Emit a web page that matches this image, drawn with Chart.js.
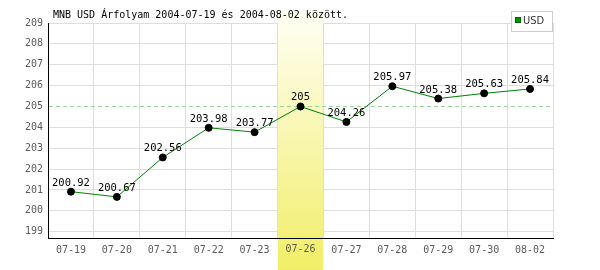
<!DOCTYPE html>
<html>
<head>
<meta charset="utf-8">
<script src="https://cdn.jsdelivr.net/npm/chart.js@4/dist/chart.umd.min.js"></script>
<style>
html,body{margin:0;padding:0;background:#fff;}
#wrap{width:600px;height:270px;position:relative;}
</style>
</head>
<body>
<div id="wrap"><canvas id="c" width="600" height="270"></canvas></div>
<script>
const titleText = "MNB USD Árfolyam 2004-07-19 és 2004-08-02 között.";
const categories = ["07-19","07-20","07-21","07-22","07-23","07-26","07-27","07-28","07-29","07-30","08-02"];
const usdValues = [200.92, 200.67, 202.56, 203.98, 203.77, 205, 204.26, 205.97, 205.38, 205.63, 205.84];
const usdLabels = ["200.92","200.67","202.56","203.98","203.77","205","204.26","205.97","205.38","205.63","205.84"];
const yTicks = [199,200,201,202,203,204,205,206,207,208,209];
const highlightCategory = "07-26";
const referenceLine = 205;
const seriesName = "USD";

const mono = "'DejaVu Sans Mono', monospace";
const hlIdx = categories.indexOf(highlightCategory);

const overlay = {
  id: 'overlay',
  beforeDatasetsDraw(chart) {
    const {ctx, chartArea, scales} = chart;
    const xs = scales.x, ys = scales.y;
    const cx = xs.getPixelForValue(hlIdx);
    const w = (chartArea.right - chartArea.left) / categories.length;
    const x0 = Math.round(cx - w/2), x1 = Math.round(cx + w/2);
    const g = ctx.createLinearGradient(0, 9, 0, 270);
    g.addColorStop(0, '#fffff6');
    g.addColorStop(1, '#f1ee66');
    ctx.save();
    ctx.fillStyle = g;
    ctx.fillRect(x0, 9, x1 - x0, 270 - 9);
    // redraw bottom axis line
    ctx.strokeStyle = '#000';
    ctx.lineWidth = 1;
    ctx.beginPath();
    ctx.moveTo(chartArea.left, Math.round(chartArea.bottom) + 0.5);
    ctx.lineTo(chartArea.right, Math.round(chartArea.bottom) + 0.5);
    ctx.stroke();
    // highlighted tick label on top of band
    ctx.font = "10px " + mono;
    ctx.fillStyle = '#5a5a5a';
    ctx.textAlign = 'center';
    ctx.textBaseline = 'top';
    ctx.fillText(highlightCategory, cx, chartArea.bottom + 6);
    // reference dashed line
    const ry = Math.round(ys.getPixelForValue(referenceLine)) + 0.5;
    ctx.strokeStyle = '#9fd49f';
    ctx.setLineDash([4, 3]);
    ctx.beginPath();
    ctx.moveTo(chartArea.left + 1, ry);
    ctx.lineTo(chartArea.right, ry);
    ctx.stroke();
    ctx.restore();
  },
  afterDatasetsDraw(chart) {
    const {ctx} = chart;
    const meta = chart.getDatasetMeta(0);
    ctx.save();
    ctx.font = "10.5px " + mono;
    ctx.fillStyle = '#000';
    ctx.textAlign = 'center';
    ctx.textBaseline = 'alphabetic';
    meta.data.forEach((pt, i) => {
      ctx.fillText(usdLabels[i], pt.x, pt.y - 6);
    });
    ctx.restore();
  },
  afterDraw(chart) {
    const {ctx} = chart;
    ctx.save();
    // title
    ctx.font = "10px " + mono;
    ctx.fillStyle = '#000';
    ctx.textAlign = 'left';
    ctx.textBaseline = 'middle';
    ctx.fillText(titleText, 53, 15);
    // legend
    ctx.fillStyle = '#fff';
    ctx.fillRect(511, 11, 42, 20);
    ctx.strokeStyle = '#cccccc';
    ctx.lineWidth = 1;
    ctx.strokeRect(511.5, 11.5, 41, 20);
    ctx.fillStyle = '#006600';
    ctx.fillRect(515, 17, 6, 6);
    ctx.fillStyle = '#009900';
    ctx.fillRect(516, 18, 4, 4);
    ctx.font = "11px 'DejaVu Sans Condensed', 'DejaVu Sans', sans-serif";
    ctx.fillStyle = '#333';
    ctx.textBaseline = 'middle';
    ctx.fillText(seriesName, 523, 21);
    ctx.restore();
  }
};

new Chart(document.getElementById('c'), {
  type: 'line',
  data: {
    labels: categories,
    datasets: [{
      label: seriesName,
      data: usdValues,
      borderColor: '#008000',
      borderWidth: 1,
      tension: 0,
      pointRadius: 3.5,
      pointHoverRadius: 3.5,
      pointBackgroundColor: '#000',
      pointBorderColor: '#000',
      pointBorderWidth: 1
    }]
  },
  options: {
    responsive: false,
    animation: false,
    events: [],
    layout: {padding: {left: 0, right: 47, top: 23, bottom: 0}},
    plugins: {legend: {display: false}, title: {display: false}, tooltip: {enabled: false}},
    scales: {
      x: {
        type: 'category',
        offset: true,
        grid: {offset: true, color: '#dddddd', drawTicks: false, lineWidth: 1},
        border: {color: '#000', width: 1},
        ticks: {font: {family: mono, size: 10}, color: '#5a5a5a', padding: 6, maxRotation: 0, autoSkip: false},
        afterFit(s) { s.height = 32; }
      },
      y: {
        type: 'linear',
        min: 198.7,
        max: 209,
        afterBuildTicks(s) { s.ticks = yTicks.map(v => ({value: v})); },
        grid: {
          color: (c) => (c.tick && c.tick.value === referenceLine) ? 'rgba(0,0,0,0)' : '#dddddd',
          drawTicks: false, lineWidth: 1
        },
        border: {color: '#000', width: 1},
        ticks: {font: {family: mono, size: 10}, color: '#5a5a5a', padding: 5},
        afterFit(s) { s.width = 48; }
      }
    }
  },
  plugins: [overlay]
});
</script>
</body>
</html>
